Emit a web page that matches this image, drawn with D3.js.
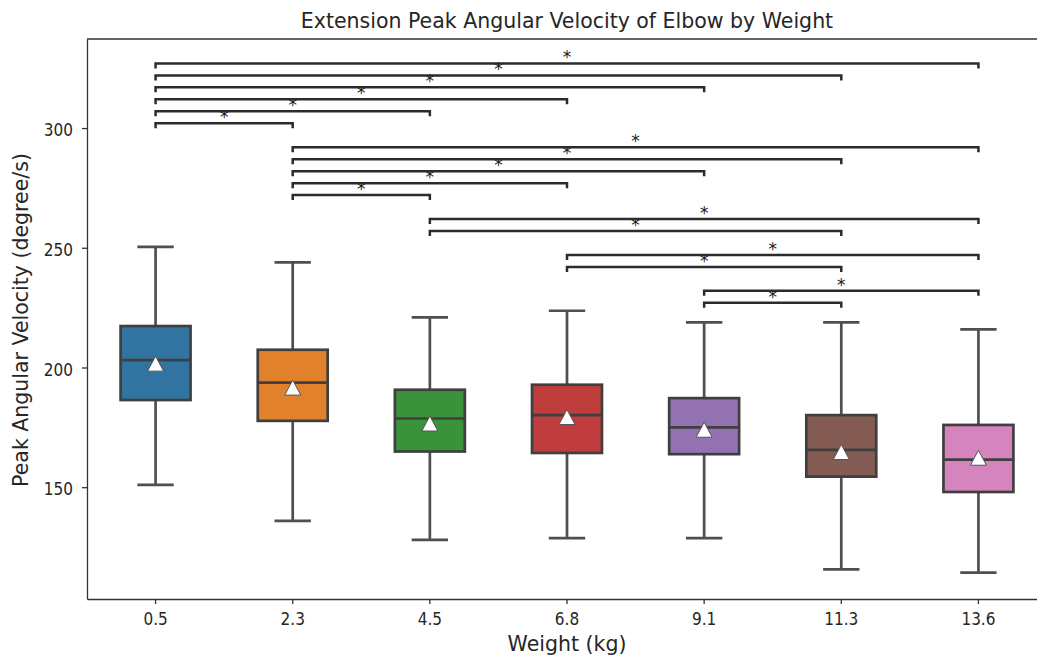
<!DOCTYPE html>
<html>
<head>
<meta charset="utf-8">
<script src="https://cdn.jsdelivr.net/npm/d3@7"></script>
<style>
  body { margin: 0; background: #fff; overflow: hidden; }
  svg { display: block; }
  text { font-family: "DejaVu Sans", sans-serif; fill: #262626; }
</style>
</head>
<body>
<div id="vis"></div>
<script>
const FRAME_WIDTH = 1038;
const FRAME_HEIGHT = 657;
const MARGINS = {left: 87, right: -9, top: 39, bottom: 58};

// box stats, one entry per weight
const WEIGHTS = ['0.5', '2.3', '4.5', '6.8', '9.1', '11.3', '13.6'];
const WHISKER_LOW = [151.0, 135.9, 128.0, 128.7, 128.7, 115.7, 114.3];
const Q1 = [186.4, 177.7, 164.9, 164.3, 163.8, 154.4, 148.0];
const MEDIAN = [203.1, 193.7, 178.7, 180.1, 175.0, 165.6, 161.5];
const Q3 = [217.3, 207.4, 190.7, 192.8, 187.2, 180.1, 176.0];
const WHISKER_HIGH = [250.4, 243.9, 220.9, 223.7, 218.8, 218.8, 215.9];
const MEAN = [201.6, 191.6, 176.6, 179.3, 174.0, 164.7, 162.3];
const COLORS = ['#3274a1', '#e1812c', '#3a923a', '#c03d3e', '#9372b2', '#845b53', '#d684bd'];

// significance brackets
const PAIRS = [
  ['0.5', '2.3'], ['0.5', '4.5'], ['0.5', '6.8'], ['0.5', '9.1'], ['0.5', '11.3'], ['0.5', '13.6'],
  ['2.3', '4.5'], ['2.3', '6.8'], ['2.3', '9.1'], ['2.3', '11.3'], ['2.3', '13.6'],
  ['4.5', '11.3'], ['4.5', '13.6'],
  ['6.8', '11.3'], ['6.8', '13.6'],
  ['9.1', '11.3'], ['9.1', '13.6']
];
const PAIR_LEVELS = [302, 307, 312, 317, 322, 327, 272, 277, 282, 287, 292, 257, 262, 242, 247, 227, 232];
const PAIR_LABELS = PAIRS.map(() => '*');

const Y_TICKS = [150, 200, 250, 300];
const Y_DOMAIN = [103.3, 337.2];

const VIS_WIDTH = FRAME_WIDTH - MARGINS.left - MARGINS.right;
const VIS_HEIGHT = FRAME_HEIGHT - MARGINS.top - MARGINS.bottom;

const SVG = d3.select('#vis')
  .append('svg')
    .attr('width', FRAME_WIDTH)
    .attr('height', FRAME_HEIGHT);

SVG.append('clipPath')
  .attr('id', 'page-clip')
  .append('rect')
    .attr('x', 0).attr('y', 0)
    .attr('width', FRAME_WIDTH - 1).attr('height', FRAME_HEIGHT);

const FRAME = SVG.append('g').attr('clip-path', 'url(#page-clip)');

const X_SCALE = d3.scaleBand()
  .domain(WEIGHTS)
  .range([MARGINS.left, MARGINS.left + VIS_WIDTH]);

const Y_SCALE = d3.scaleLinear()
  .domain(Y_DOMAIN)
  .range([MARGINS.top + VIS_HEIGHT, MARGINS.top]);

const BW = X_SCALE.bandwidth();
const BOX_W = BW * 0.51;
const CAP_W = BW * 0.265;
const LINE_COLOR = '#3f3f3f';
const WHISKER_COLOR = '#4f4f4f';

const data = WEIGHTS.map((w, i) => ({
  w: w, lo: WHISKER_LOW[i], q1: Q1[i], med: MEDIAN[i], q3: Q3[i],
  hi: WHISKER_HIGH[i], mean: MEAN[i], color: COLORS[i]
}));

const cx = (d) => X_SCALE(d.w) + BW / 2;

const boxes = FRAME.append('g')
  .selectAll('g')
  .data(data)
  .enter()
  .append('g');

// whiskers
boxes.append('line')
  .attr('x1', cx).attr('x2', cx)
  .attr('y1', (d) => Y_SCALE(d.q3)).attr('y2', (d) => Y_SCALE(d.hi))
  .attr('stroke', WHISKER_COLOR).attr('stroke-width', 2.7);
boxes.append('line')
  .attr('x1', cx).attr('x2', cx)
  .attr('y1', (d) => Y_SCALE(d.q1)).attr('y2', (d) => Y_SCALE(d.lo))
  .attr('stroke', WHISKER_COLOR).attr('stroke-width', 2.7);

// caps
['hi', 'lo'].forEach((k) => {
  boxes.append('line')
    .attr('x1', (d) => cx(d) - CAP_W / 2).attr('x2', (d) => cx(d) + CAP_W / 2)
    .attr('y1', (d) => Y_SCALE(d[k])).attr('y2', (d) => Y_SCALE(d[k]))
    .attr('stroke', WHISKER_COLOR).attr('stroke-width', 2.7);
});

// boxes
boxes.append('rect')
  .attr('x', (d) => cx(d) - BOX_W / 2)
  .attr('y', (d) => Y_SCALE(d.q3))
  .attr('width', BOX_W)
  .attr('height', (d) => Y_SCALE(d.q1) - Y_SCALE(d.q3))
  .attr('fill', (d) => d.color)
  .attr('stroke', LINE_COLOR)
  .attr('stroke-width', 2.7);

// medians
boxes.append('line')
  .attr('x1', (d) => cx(d) - BOX_W / 2).attr('x2', (d) => cx(d) + BOX_W / 2)
  .attr('y1', (d) => Y_SCALE(d.med)).attr('y2', (d) => Y_SCALE(d.med))
  .attr('stroke', LINE_COLOR).attr('stroke-width', 2.7);

// means
boxes.append('path')
  .attr('d', 'M0,-7.5L8,7.5L-8,7.5Z')
  .attr('transform', (d) => 'translate(' + cx(d) + ',' + Y_SCALE(d.mean) + ')')
  .attr('fill', '#ffffff')
  .attr('stroke', '#555555')
  .attr('stroke-width', 1);

// brackets
const LEG = 5;
const brackets = FRAME.append('g')
  .selectAll('g')
  .data(PAIRS.map((p, i) => ({a: p[0], b: p[1], y: PAIR_LEVELS[i], label: PAIR_LABELS[i]})))
  .enter()
  .append('g');

brackets.append('path')
  .attr('d', (d) => {
    const x1 = X_SCALE(d.a) + BW / 2;
    const x2 = X_SCALE(d.b) + BW / 2;
    const y = Y_SCALE(d.y);
    return 'M' + x1 + ',' + (y + LEG) + 'L' + x1 + ',' + y + 'L' + x2 + ',' + y + 'L' + x2 + ',' + (y + LEG);
  })
  .attr('fill', 'none')
  .attr('stroke', '#2b2b2b')
  .attr('stroke-width', 2.5);

brackets.append('text')
  .attr('x', (d) => (X_SCALE(d.a) + X_SCALE(d.b)) / 2 + BW / 2)
  .attr('y', (d) => Y_SCALE(d.y))
  .attr('text-anchor', 'middle')
  .attr('font-size', '17px')
  .style('fill', '#1a1a1a')
  .text((d) => d.label);

// axes
const xAxis = FRAME.append('g')
  .attr('transform', 'translate(0,' + (MARGINS.top + VIS_HEIGHT) + ')')
  .call(d3.axisBottom(X_SCALE).tickSize(5).tickSizeOuter(0).tickPadding(9));

const yAxis = FRAME.append('g')
  .attr('transform', 'translate(' + MARGINS.left + ',0)')
  .call(d3.axisLeft(Y_SCALE).tickValues(Y_TICKS).tickSize(5).tickSizeOuter(0).tickPadding(9));

yAxis.selectAll('.tick text').attr('dy', '0.45em');

[xAxis, yAxis].forEach((ax) => {
  ax.selectAll('.domain').attr('stroke', '#333333').attr('stroke-width', 1.3);
  ax.selectAll('.tick line').attr('stroke', '#333333').attr('stroke-width', 1.3);
  ax.selectAll('.tick text')
    .attr('font-size', '17px')
    .attr('font-family', '"DejaVu Sans Condensed", "DejaVu Sans", sans-serif')
    .style('font-stretch', 'condensed')
    .attr('fill', '#262626');
});

// top spine
FRAME.append('line')
  .attr('x1', MARGINS.left).attr('x2', MARGINS.left + VIS_WIDTH)
  .attr('y1', MARGINS.top).attr('y2', MARGINS.top)
  .attr('stroke', '#333333').attr('stroke-width', 1.3);

// labels
FRAME.append('text')
  .attr('x', MARGINS.left + VIS_WIDTH / 2)
  .attr('y', 28)
  .attr('text-anchor', 'middle')
  .attr('font-size', '20.5px')
  .text('Extension Peak Angular Velocity of Elbow by Weight');

FRAME.append('text')
  .attr('x', MARGINS.left + VIS_WIDTH / 2)
  .attr('y', 651)
  .attr('text-anchor', 'middle')
  .attr('font-size', '20.5px')
  .text('Weight (kg)');

FRAME.append('text')
  .attr('transform', 'translate(28,320) rotate(-90)')
  .attr('text-anchor', 'middle')
  .attr('font-size', '20.5px')
  .text('Peak Angular Velocity (degree/s)');
</script>
</body>
</html>
